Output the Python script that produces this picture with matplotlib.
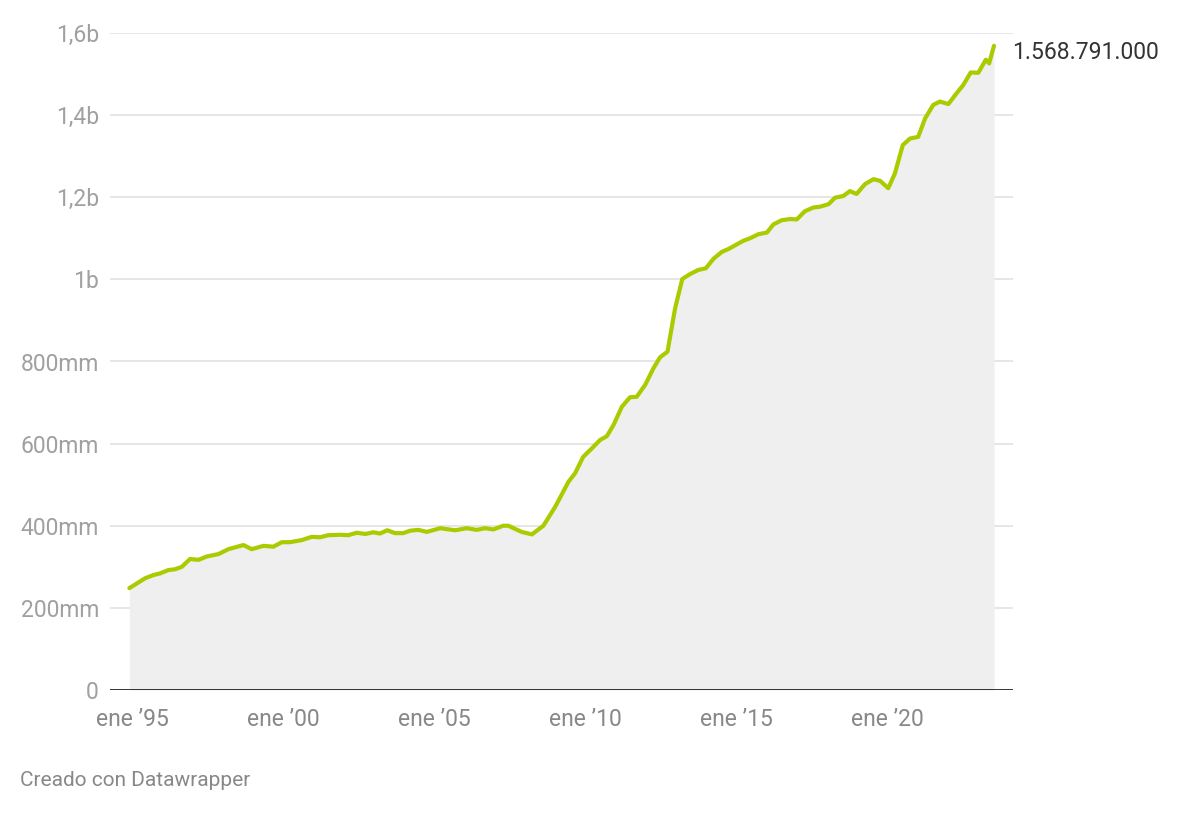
import matplotlib
matplotlib.use("Agg")
import matplotlib.pyplot as plt

plt.rcParams['font.family'] = ['Roboto', 'DejaVu Sans']

# Decimal years (approximate dates)
years = [1994.91, 1995.43, 1995.71, 1995.93, 1996.20, 1996.42, 1996.65, 1996.92,
         1997.20, 1997.47, 1997.86, 1998.19, 1998.69, 1998.96, 1999.35, 1999.68,
         1999.96, 2000.23, 2000.62, 2000.95, 2001.23, 2001.50, 2001.89,
         2002.16, 2002.44, 2002.72, 2002.99, 2003.21, 2003.45, 2003.71, 2003.98,
         2004.21, 2004.48, 2004.76, 2005.20, 2005.70, 2006.08, 2006.41, 2006.69,
         2006.96, 2007.29, 2007.46, 2007.90, 2008.24, 2008.62,
         2009.01, 2009.45, 2009.67, 2009.94, 2010.22, 2010.50, 2010.72, 2010.94,
         2011.22, 2011.49, 2011.71, 2011.99, 2012.26, 2012.48, 2012.73, 2012.98,
         2013.22, 2013.48, 2013.75, 2014.00,
         2014.25, 2014.53, 2014.75, 2015.02, 2015.24, 2015.46, 2015.74, 2016.02,
         2016.24, 2016.51, 2016.79, 2017.01, 2017.28, 2017.56, 2017.78, 2018.06,
         2018.28, 2018.55, 2018.77, 2018.99, 2019.27, 2019.55, 2019.77, 2020.04,
         2020.26, 2020.52, 2020.76, 2021.03, 2021.26, 2021.53, 2021.75, 2022.03,
         2022.31, 2022.52, 2022.77, 2023.02, 2023.27, 2023.38, 2023.54]

# Values in millions
values = [248, 272, 280, 284, 292, 294, 300, 319,
          317, 325, 331, 343, 353, 343, 351, 349,
          360, 360, 365, 373, 372, 377, 378,
          377, 383, 380, 384, 381, 389, 382, 382,
          388, 390, 385, 394, 389, 394, 390, 394,
          391, 400, 400, 385, 379, 400,
          446, 507, 528, 568, 588, 609, 618, 645,
          690, 713, 714, 743, 783, 810, 824, 929,
          1001, 1013, 1023, 1027,
          1050, 1067, 1074, 1085, 1094, 1100, 1110, 1114,
          1134, 1144, 1147, 1146, 1166, 1175, 1177, 1183,
          1199, 1203, 1215, 1208, 1232, 1244, 1240, 1222,
          1258, 1327, 1343, 1347, 1392, 1425, 1433, 1427,
          1454, 1473, 1504, 1503, 1535, 1526, 1568.791]

y_ticks = [0, 200, 400, 600, 800, 1000, 1200, 1400, 1600]
y_tick_labels = ["0", "200mm", "400mm", "600mm", "800mm", "1b", "1,2b", "1,4b", "1,6b"]
x_ticks = [1995, 2000, 2005, 2010, 2015, 2020]
x_tick_labels = ["ene \u201995", "ene \u201900", "ene \u201905", "ene \u201910", "ene \u201915", "ene \u201920"]
last_label = "1.568.791.000"
credit = "Creado con Datawrapper"

line_color = "#a8cc00"
fill_color = "#efefef"
grid_color = "#e2e2e2"
tick_color = "#a0a0a0"

fig = plt.figure(figsize=(12, 8.13), dpi=100)
ax = fig.add_axes([110/1200, 1 - 690/813, (1013 - 110)/1200, (690 - 33)/813])

ax.fill_between(years, values, 0, color=fill_color, linewidth=0, zorder=1)
ax.plot(years, values, color=line_color, linewidth=3, solid_joinstyle='round',
        solid_capstyle='round', zorder=3, clip_on=False)

ax.set_xlim(1994.27, 2024.17)
ax.set_ylim(0, 1600)

for y in y_ticks[1:]:
    ax.axhline(y, color=grid_color, linewidth=1.2, zorder=0.5)
ax.axhline(0, color="#222222", linewidth=2, zorder=4)

ax.set_yticks(y_ticks)
ax.set_yticklabels(y_tick_labels)
ax.set_xticks(x_ticks)
ax.set_xticklabels(x_tick_labels)
ax.tick_params(axis='y', length=0, pad=8, labelsize=16.5, labelcolor=tick_color)
ax.tick_params(axis='x', length=0, pad=13, labelsize=16.5, labelcolor="#888888")

for s in ax.spines.values():
    s.set_visible(False)

ax.annotate(last_label, xy=(years[-1], values[-1]), xytext=(13, -5),
            textcoords='offset points', fontsize=16.5, color="#333333",
            va='center', ha='left', annotation_clip=False)

fig.text(20/1200, 1 - 780/813, credit, fontsize=15, color="#888888",
         ha='left', va='center')

fig.savefig("out.png", dpi=100, facecolor="white")
